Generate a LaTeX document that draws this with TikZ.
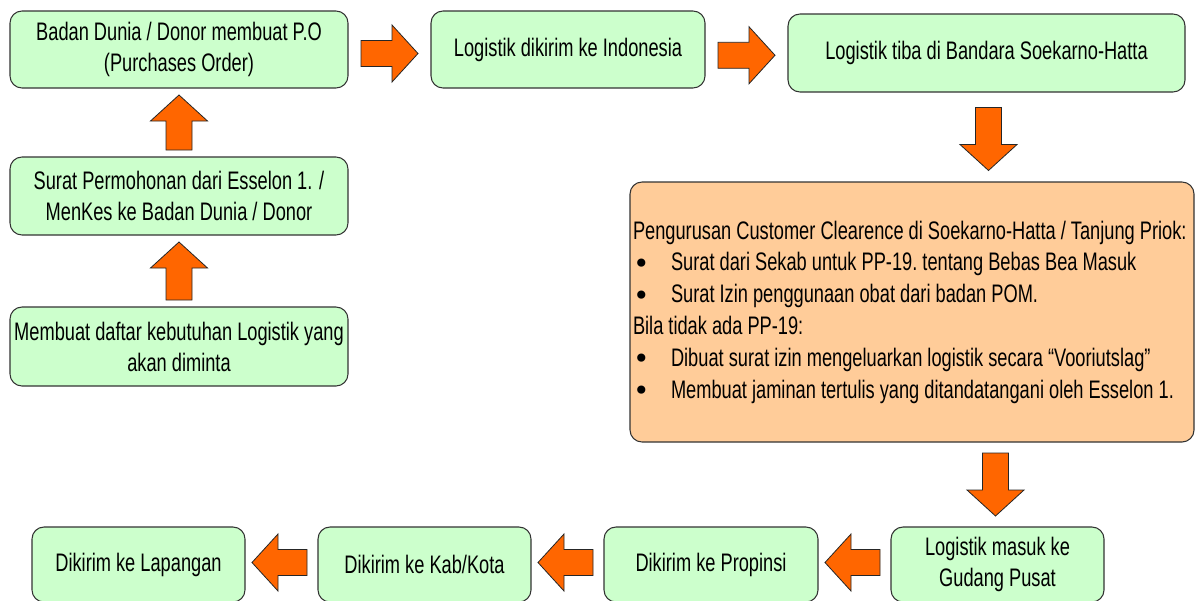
\documentclass[tikz,border=0pt]{standalone}
\usepackage{fontspec}
\setmainfont{Liberation Sans}[FakeStretch=0.72]
\newfontfamily\simbol{DejaVu Sans}
\usetikzlibrary{calc}

\definecolor{hijau}{HTML}{CCFFCC}
\definecolor{oranye}{HTML}{FF6600}
\definecolor{krem}{HTML}{FFCC99}

\newcommand{\px}{0.75pt}
\newcommand{\butir}{\makebox[28.5pt][l]{\raisebox{-2pt}{\simbol\fontsize{21pt}{21pt}\selectfont •}}}
% panah blok: pusat, sudut, panjang
\newcommand{\panahblok}[3]{%
  \draw[panah, shift={(#1)}, rotate=#2] ({-#3/2},-13) -- ({#3/2-26},-13) -- ({#3/2-26},-28.5) -- ({#3/2},0)
    -- ({#3/2-26},28.5) -- ({#3/2-26},13) -- ({-#3/2},13) -- cycle;}

\begin{document}
\begin{tikzpicture}[x=0.75pt, y=-0.75pt,
    kotak/.style={draw=black!80, line width=0.8pt, fill=hijau, rounded corners=9pt, align=center,
      inner sep=2pt, font=\fontsize{19pt}{23.25pt}\selectfont},
    panah/.style={draw=black!85, line width=0.6pt, fill=oranye}]
  \useasboundingbox (0,0) rectangle (1195,600);
  \clip (0,0) rectangle (1195,600);

  % Baris atas
  \node[kotak, minimum width=338*\px, minimum height=77*\px] (po) at (179,49.5) {Badan Dunia / Donor membuat P.O\\(Purchases Order)};
  \node[kotak, minimum width=274*\px, minimum height=77*\px] (kirim) at (568,49.5) {Logistik dikirim ke Indonesia};
  \node[kotak, minimum width=397*\px, minimum height=78*\px] (tiba) at (986.5,53) {Logistik tiba di Bandara Soekarno-Hatta};

  % Kolom kiri
  \node[kotak, minimum width=338*\px, minimum height=78*\px] (surat) at (179,196) {Surat Permohonan dari Esselon 1. /\\MenKes ke Badan Dunia / Donor};
  \node[kotak, minimum width=338*\px, minimum height=79*\px] (daftar) at (179,346.5) {Membuat daftar kebutuhan Logistik yang\\akan diminta};

  % Customer clearence
  \node[kotak, fill=krem, text width=558*\px, inner xsep=3*\px, minimum height=260*\px, align=flush left,
    font=\fontsize{19pt}{23.85pt}\selectfont\frenchspacing] (clear) at (912,312) {Pengurusan Customer Clearence di Soekarno-Hatta / Tanjung Priok:\\
    \butir Surat dari Sekab untuk PP-19. tentang Bebas Bea Masuk\\
    \butir Surat Izin penggunaan obat dari badan POM.\\
    Bila tidak ada PP-19:\\
    \butir Dibuat surat izin mengeluarkan logistik secara “Vooriutslag”\\
    \butir Membuat jaminan tertulis yang ditandatangani oleh Esselon 1.};

  % Baris bawah
  \node[kotak, minimum width=213*\px, minimum height=75*\px] (gudang) at (997.5,564.5) {Logistik masuk ke\\Gudang Pusat};
  \node[kotak, minimum width=214*\px, minimum height=75*\px] (propinsi) at (711,564.5) {Dikirim ke Propinsi};
  \node[kotak, minimum width=213*\px, minimum height=75*\px] (kab) at (424.5,564.5) {Dikirim ke Kab/Kota};
  \node[kotak, minimum width=213*\px, minimum height=75*\px] (lapangan) at (138.5,564.5) {Dikirim ke Lapangan};

  % Panah
  \coordinate (p1) at ($(daftar.north)!0.5!(surat.south)$);
  \coordinate (p2) at ($(surat.north)!0.5!(po.south)$);
  \coordinate (p3) at ($(po.east)!0.5!(kirim.west)+(0,4)$);
  \coordinate (p4) at ($(kirim.east)!0.5!(tiba.west)+(0,4)$);
  \coordinate (p5) at ($(tiba.south)!0.5!(tiba.south|-clear.north)+(2,2)$);
  \coordinate (p6) at ($(gudang.north|-clear.south)!0.5!(gudang.north)+(-2,0)$);
  \coordinate (p7) at ($(gudang.west)!0.5!(propinsi.east)+(-2,-2)$);
  \coordinate (p8) at ($(propinsi.west)!0.5!(kab.east)+(-2,-2)$);
  \coordinate (p9) at ($(kab.west)!0.5!(lapangan.east)+(-2,-2)$);
  \panahblok{p1}{90}{58}
  \panahblok{p2}{90}{55}
  \panahblok{p3}{0}{57}
  \panahblok{p4}{0}{57}
  \panahblok{p5}{-90}{63}
  \panahblok{p6}{-90}{63}
  \panahblok{p7}{180}{55}
  \panahblok{p8}{180}{55}
  \panahblok{p9}{180}{55}
\end{tikzpicture}
\end{document}
